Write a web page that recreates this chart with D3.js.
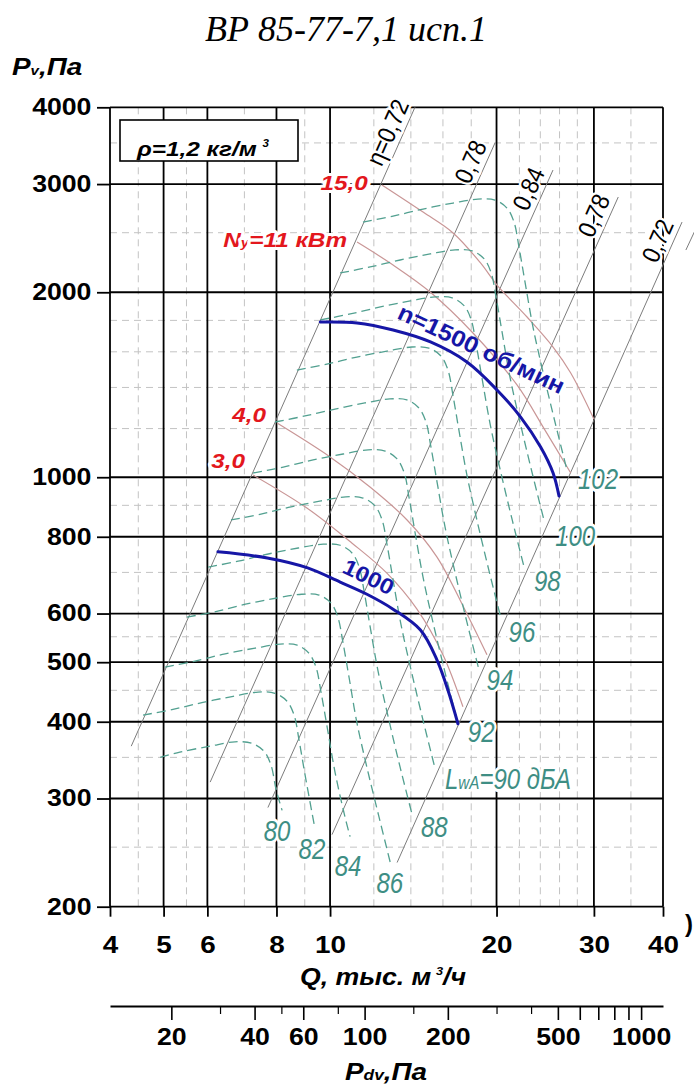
<!DOCTYPE html>
<html><head><meta charset="utf-8"><title>ВР 85-77-7,1 исп.1</title>
<script src="https://cdn.jsdelivr.net/npm/d3@7/dist/d3.min.js"></script>
<style>html,body{margin:0;padding:0;background:#fff}svg{display:block}</style>
</head><body>
<svg id="chart" width="694" height="1086"></svg>
<script>
// ---------------- data ----------------
const qTicks=[4,5,6,8,10,20,30,40];
const qMinor=[4.5,5.5,7,9,12,14,16,18,22,24,26,28,35];
const pTicks=[200,300,400,500,600,800,1000,2000,3000,4000];
const pMinor=[250,350,450,550,700,900,1200,1400,1600,1800,2500,3500];
const pdvTicks=[20,40,60,100,200,500,1000];
const pdvMid=[600,700,800,900];
const pdvMinor=[30,50,80,150,300,400];

// fan speed curves [Q thousand m3/h, Pv Pa]
const n1500=[[9.60,1789],[11.19,1783],[13.0,1736],[15.19,1660],[17.68,1540],[20.04,1387],[22.11,1253],[24.03,1120],[25.31,1016],[25.94,932]];
const n1000=[[6.27,756],[7.70,739],[9.11,712],[10.43,675],[11.66,645],[13.0,610],[14.57,564],[15.61,504],[16.34,450],[17.03,397]];

// power lines (kW)
const powerLabels=["15,0","Nу=11 кВт","4,0","3,0"];
const pw15=[[12.41,2990],[14.73,2701],[16.69,2498],[18.71,2232],[20.04,2055],[22.71,1823],[25.31,1629],[27.24,1478],[30.01,1243]];
const pw11=[[11.19,2414],[13.0,2215],[15.19,2000],[18.13,1717],[21.78,1413],[24.47,1193],[27.24,1016]];
const pw4=[[8.02,1225],[10.0,1079],[11.81,964],[13.78,852],[15.6,742],[17.54,608],[19.22,514]];
const pw3=[[7.26,1008],[9.08,891],[10.96,781],[12.67,698],[14.36,610],[16.0,514],[17.39,423]];

// efficiency lines: bottom & top points
const etaLabels=["η=0,72","0,78","0,84","0,78","0,72"];
const etaBottom=[[4.37,365],[6.07,319],[7.72,290],[10.08,262],[13.22,236]];
const etaTop=[[14.24,4000],[19.87,3499],[25.3,3162],[33.2,2858],[43.3,2602]];
const etaExtra=[[44.0,2343],[46.1,2563]];

// sound power level curves LwA, dB
const lwLevels=[80,82,84,86,88,90,92,94,96,98,100,102];
const lw80=[[4.93,350],[5.35,357],[6.07,365],[6.73,371],[7.22,369],[7.6,358],[7.82,340],[7.99,310],[8.19,287]];
const lw82=[[4.59,410],[5.2,419],[5.89,430],[6.68,440],[7.41,447],[7.95,445],[8.36,432],[8.61,410],[8.79,373],[9.01,328],[9.39,268]];
const lw84=[[5.03,491],[5.7,502],[6.46,516],[7.32,527],[8.12,535],[8.72,533],[9.16,517],[9.43,491],[9.63,447],[9.88,392],[10.21,331],[10.64,280],[10.87,260]];
const lw86=[[5.51,592],[6.24,605],[7.07,622],[8.02,636],[8.89,645],[9.55,643],[10.04,624],[10.33,592],[10.55,539],[10.82,473],[11.18,399],[11.66,337],[12.26,280],[12.88,234]];
const lw88=[[6.02,714],[6.82,730],[7.73,750],[8.76,767],[9.72,778],[10.43,775],[10.97,752],[11.29,714],[11.53,650],[11.82,570],[12.22,482],[12.74,407],[13.39,337],[14.08,282]];
const lw90=[[6.62,852],[7.5,871],[8.5,895],[9.63,915],[10.68,929],[11.47,925],[12.06,898],[12.42,852],[12.68,776],[13.0,681],[13.44,575],[14.01,486],[14.72,403],[15.48,336]];
const lw92=[[7.26,1016],[8.23,1039],[9.32,1067],[10.56,1091],[11.72,1108],[12.58,1103],[13.22,1071],[13.62,1016],[13.9,925],[14.25,812],[14.74,685],[15.36,579],[16.15,480],[16.98,401]];
const lw94=[[7.95,1230],[9.01,1258],[10.21,1291],[11.56,1321],[12.83,1341],[13.77,1336],[14.48,1296],[14.91,1230],[15.22,1120],[15.61,983],[16.14,830],[16.82,701],[17.68,581],[18.59,486]];
const lw96=[[8.71,1494],[9.87,1528],[11.18,1569],[12.67,1604],[14.06,1629],[15.09,1622],[15.87,1575],[16.34,1494],[16.68,1360],[17.1,1193],[17.68,1008],[18.43,852],[19.37,706],[20.37,590]];
const lw98=[[9.6,1803],[10.88,1844],[12.33,1893],[13.97,1936],[15.49,1965],[16.63,1958],[17.49,1900],[18.0,1803],[18.38,1642],[18.85,1440],[19.49,1216],[20.31,1028],[21.35,852],[22.45,712]];
const lw100=[[10.43,2150],[11.82,2199],[13.39,2257],[15.17,2309],[16.83,2344],[18.07,2335],[19.0,2266],[19.56,2150],[19.97,1958],[20.48,1717],[21.17,1450],[22.07,1226],[23.2,1016],[24.39,849]];
const lw102=[[11.47,2602],[13.0,2661],[14.73,2732],[16.69,2794],[18.51,2836],[19.87,2826],[20.89,2742],[21.51,2602],[21.96,2369],[22.52,2078],[23.28,1755],[24.27,1483],[25.51,1230],[26.82,1027]];

// ---------------- layout ----------------
const svg=d3.select('#chart');
const x=d3.scaleLog().domain([4,40]).range([110,663]);
const y=d3.scaleLog().domain([200,4000]).range([906.7,107.3]);
const xd=d3.scaleLog().domain([12,1200]).range([110,663]);
const SANS="'Liberation Sans',Arial,Helvetica,sans-serif";
const SERIF="'Liberation Serif','Times New Roman',serif";
const TEAL='#3e8e84', DASH='#52a090', BLUE='#1616a6', RED='#e3171d', PINK='#c99696', GREY='#7c7c7c';
const SX=1.16;

function txt(g,parts,o){
  const t=g.append('text')
    .attr('transform',`translate(${o.x},${o.y}) rotate(${o.rot||0}) scale(${o.sx||1},1)`)
    .attr('font-family',o.family||SANS).attr('font-size',o.size)
    .attr('font-weight',o.weight||'normal').attr('font-style',o.style||'normal')
    .attr('fill',o.fill||'#000').attr('text-anchor',o.anchor||'start');
  if(o.baseline) t.attr('dominant-baseline',o.baseline);
  if(o.halo) t.attr('stroke','#fff').attr('stroke-width',o.halo).attr('paint-order','stroke').attr('stroke-linejoin','round');
  if(typeof parts==='string') t.text(parts);
  else parts.forEach(p=>{const s=t.append('tspan').text(p.t); if(p.size) s.attr('font-size',p.size); if(p.dy!=null) s.attr('dy',p.dy); if(p.dx!=null) s.attr('dx',p.dx);});
  return t;
}

// minor grid
const gm=svg.append('g').attr('stroke','#c3c3c3').attr('stroke-width',1).attr('stroke-dasharray','7,5');
gm.selectAll('line.v').data(qMinor).join('line').attr('class','v')
  .attr('x1',d=>x(d)).attr('x2',d=>x(d)).attr('y1',y(4000)).attr('y2',y(200));
gm.selectAll('line.h').data(pMinor).join('line').attr('class','h')
  .attr('x1',x(4)).attr('x2',x(40)).attr('y1',d=>y(d)).attr('y2',d=>y(d));

// major grid
const gM=svg.append('g').attr('stroke','#000').attr('stroke-width',1.8);
gM.selectAll('line.v').data(qTicks).join('line').attr('class','v')
  .attr('x1',d=>x(d)).attr('x2',d=>x(d)).attr('y1',y(4000)).attr('y2',y(200));
gM.selectAll('line.h').data(pTicks).join('line').attr('class','h')
  .attr('x1',x(4)).attr('x2',x(40)).attr('y1',d=>y(d)).attr('y2',d=>y(d));

// axes
function styleAxis(a,size){
  a.select('.domain').remove();
  a.selectAll('line').attr('stroke','#000').attr('stroke-width',1.8);
  a.selectAll('text').attr('font-family',SANS).attr('font-size',size).attr('font-weight','bold').attr('fill','#000').attr('transform',`scale(${SX},1)`);
}
const ya=svg.append('g').attr('transform',`translate(${x(4)},0)`)
  .call(d3.axisLeft(y).tickValues(pTicks).tickFormat(d3.format('d')).tickSize(13).tickPadding(3).tickSizeOuter(0));
styleAxis(ya,23);
const xa=svg.append('g').attr('transform',`translate(0,${y(200)})`)
  .call(d3.axisBottom(x).tickValues(qTicks).tickFormat(d3.format('d')).tickSize(10).tickPadding(19).tickSizeOuter(0));
styleAxis(xa,24);

// dynamic pressure axis
const pdvY=1006;
const pa=svg.append('g').attr('transform',`translate(0,${pdvY})`)
  .call(d3.axisBottom(xd).tickValues(pdvTicks.concat(pdvMid)).tickFormat(d=>pdvTicks.includes(d)?d3.format('d')(d):'').tickSize(14).tickPadding(9).tickSizeOuter(0));
pa.select('.domain').attr('stroke','#000').attr('stroke-width',1.8);
pa.selectAll('line').attr('stroke','#000').attr('stroke-width',1.6);
pa.selectAll('text').attr('font-family',SANS).attr('font-size',23).attr('font-weight','bold').attr('fill','#000').attr('transform',`scale(${SX},1)`);
const pm=svg.append('g').attr('transform',`translate(0,${pdvY})`)
  .call(d3.axisBottom(xd).tickValues(pdvMinor).tickFormat('').tickSize(8).tickSizeOuter(0));
pm.select('.domain').remove();
pm.selectAll('line').attr('stroke','#000').attr('stroke-width',1.2);

// efficiency lines
const lin=d3.line().x(d=>x(d[0])).y(d=>y(d[1]));
const gE=svg.append('g').attr('fill','none').attr('stroke',GREY).attr('stroke-width',1);
etaBottom.forEach((b,i)=>gE.append('path').attr('d',lin([b,etaTop[i]])));
gE.append('path').attr('d',lin(etaExtra));

const crv=d3.line().x(d=>x(d[0])).y(d=>y(d[1])).curve(d3.curveCatmullRom.alpha(0.5));
// power lines
const gP=svg.append('g').attr('fill','none').attr('stroke',PINK).attr('stroke-width',1.2);
[pw15,pw11,pw4,pw3].forEach(s=>gP.append('path').attr('d',crv(s)));

// noise curves
const lwSeries=[lw80,lw82,lw84,lw86,lw88,lw90,lw92,lw94,lw96,lw98,lw100,lw102];
const gN=svg.append('g').attr('fill','none').attr('stroke',DASH).attr('stroke-width',1.3).attr('stroke-dasharray','9,5');
lwSeries.forEach(s=>gN.append('path').attr('d',crv(s)));

// speed curves
const gB=svg.append('g').attr('fill','none').attr('stroke',BLUE).attr('stroke-width',3).attr('stroke-linecap','round');
gB.append('path').attr('d',crv(n1500));
gB.append('path').attr('d',crv(n1000));

// ---------------- texts ----------------
const gT=svg.append('g');
txt(gT,"ВР 85-77-7,1 исп.1",{x:346,y:41,size:36,style:'italic',family:SERIF,anchor:'middle'});
txt(gT,[{t:'P'},{t:'v',size:13},{t:',Па'}],{x:12,y:75,size:24,weight:'bold',style:'italic',sx:SX});
txt(gT,[{t:'Q, тыс. м'},{t:'3',size:11,dy:-10,dx:4},{t:'/ч',dy:10}],{x:383,y:985,size:23,weight:'bold',style:'italic',sx:SX,anchor:'middle'});
txt(gT,[{t:'P'},{t:'dv',size:15},{t:',Па'}],{x:386,y:1080,size:24,weight:'bold',style:'italic',sx:SX,anchor:'middle'});
txt(gT,')',{x:685,y:932,size:24,weight:'bold'});

// density box
svg.append('rect').attr('x',120).attr('y',120).attr('width',178).attr('height',41).attr('fill','#fff').attr('stroke','#000').attr('stroke-width',1.6);
txt(svg,[{t:'ρ=1,2 кг/м'},{t:'3',size:10,dy:-9,dx:5}],{x:137,y:156,size:21,weight:'bold',style:'italic',sx:SX});

// efficiency labels
etaLabels.forEach((lb,i)=>{
  const b=[x(etaBottom[i][0]),y(etaBottom[i][1])], t=[x(etaTop[i][0]),y(etaTop[i][1])];
  const L=Math.hypot(t[0]-b[0],t[1]-b[1]); const ux=(t[0]-b[0])/L, uy=(t[1]-b[1])/L;
  const s=i===0?34:27, dd=15;
  const cx=t[0]-s*ux+dd*uy, cy=t[1]-s*uy-dd*ux;
  const ang=Math.atan2(uy,ux)*180/Math.PI;
  txt(gT,lb,{x:cx,y:cy,size:25,sx:0.9,rot:ang,anchor:'middle',baseline:'central',halo:5});
});

// power labels
const pwStart=[pw15[0],pw11[0],pw4[0],pw3[0]];
const pwOff=[[-14,5],[-10,5],[-11,-1],[-8,-7]];
powerLabels.forEach((lb,i)=>{
  const px=x(pwStart[i][0])+pwOff[i][0], py=y(pwStart[i][1])+pwOff[i][1];
  const parts= i===1?[{t:'N'},{t:'у',size:13},{t:'=11 кВт'}]:lb;
  txt(gT,parts,{x:px,y:py,size:21,weight:'bold',style:'italic',fill:RED,sx:SX,anchor:'end',halo:6});
});

// noise labels
const lwOff=[[-5,20],[-3,19],[-2,28],[-1,17],[22,11],[10,10],[24,10],[21,9],[21,13],[23,12],[31,14],[31,8]];
lwSeries.forEach((s,i)=>{
  const e=s[s.length-1];
  const px=x(e[0])+lwOff[i][0], py=y(e[1])+lwOff[i][1]+11;
  if(lwLevels[i]===90){
    txt(gT,[{t:'L'},{t:'wA',size:19},{t:'=90 дБА'}],{x:px,y:py,size:30,style:'italic',fill:TEAL,sx:0.8,halo:6});
  } else {
    txt(gT,String(lwLevels[i]),{x:px,y:py,size:30,style:'italic',fill:TEAL,sx:0.8,anchor:'middle',halo:6});
  }
});

// speed labels
txt(gT,'n=1500 об/мин',{x:396,y:318,size:23,weight:'bold',fill:BLUE,sx:1.1,rot:25});
txt(gT,'1000',{x:341,y:572,size:22,weight:'bold',fill:BLUE,sx:1.1,rot:26});
</script>
</body></html>
